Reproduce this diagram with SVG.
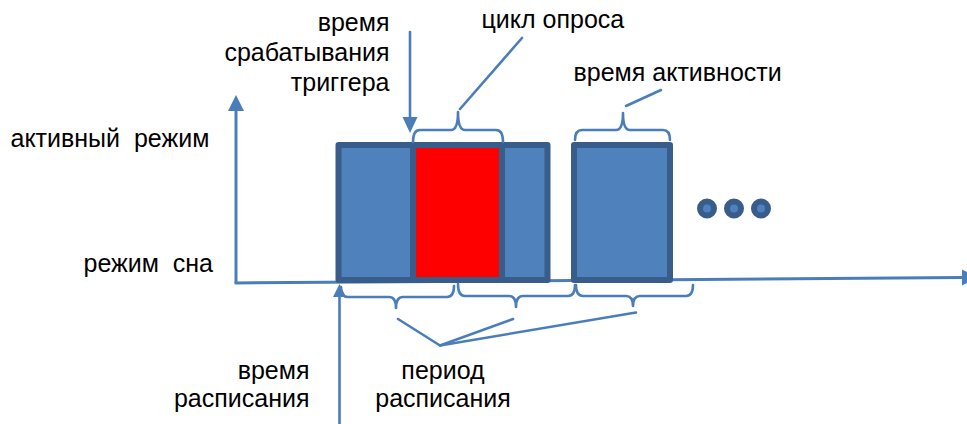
<svg xmlns="http://www.w3.org/2000/svg" width="967" height="424" viewBox="0 0 967 424">
<style>
text{font-family:"Liberation Sans",Arial,sans-serif;font-size:25px;fill:#000}
.ln{fill:none;stroke:#4A7EBB;stroke-width:2.6;stroke-linecap:round;stroke-linejoin:round}
.ax{fill:none;stroke:#4A7EBB;stroke-width:3}
.ah{fill:#4A7EBB;stroke:none}
.box{fill:#4F81BD;stroke:#385D8A;stroke-width:6;stroke-linejoin:round}
.red{fill:#FF0000;stroke:#385D8A;stroke-width:6}
.dot{fill:#4F81BD;stroke:#385D8A;stroke-width:6}
</style>
<rect width="967" height="424" fill="#fff"/>
<g id="axes">
<line class="ax" x1="236" y1="283" x2="236" y2="108"/>
<polygon class="ah" points="236,95 228,111 244,111"/>
<line class="ax" x1="234.5" y1="283" x2="963" y2="277.5"/>
<polygon class="ah" points="978,277.4 962,269.5 962,285.5"/>
</g>
<g id="box1">
<rect class="box" x="338.5" y="145" width="209" height="135"/>
<rect class="red" x="413" y="145" width="89" height="135"/>
</g>
<g id="box2">
<rect class="box" x="574" y="145" width="96" height="135"/>
</g>
<g id="dots">
<circle class="dot" cx="707" cy="208.5" r="7"/>
<circle class="dot" cx="734" cy="208.5" r="7"/>
<circle class="dot" cx="761" cy="208.5" r="7"/>
</g>
<g id="connectors">
<line class="ln" x1="410" y1="32" x2="410" y2="119"/>
<polygon class="ah" points="410,133 402.5,117 417.5,117"/>
<line class="ln" x1="339.5" y1="424" x2="339.5" y2="295"/>
<polygon class="ah" points="339.5,284 333,297 346,297"/>
<path class="ln" d="M413,142 Q413,130 420,130 H451 Q458,130 458,112 Q458,130 465,130 H496 Q503,130 503,142"/>
<path class="ln" d="M575,140 Q575,130 582,130 H616 Q623,130 623,113 Q623,130 630,130 H663 Q670,130 670,140"/>
<path class="ln" d="M341,287 Q341,297 348,297 H389 Q396,297 396,308 Q396,297 403,297 H447 Q454,297 454,286"/>
<path class="ln" d="M458,284 Q458,296 465,296 H509 Q516,296 516,307 Q516,296 523,296 H568 Q575,296 575,285"/>
<path class="ln" d="M576,285 Q576,296 583,296 H626 Q633,296 633,306 Q633,296 640,296 H686 Q693,296 693,285"/>
<line class="ln" x1="522" y1="38" x2="460" y2="109"/>
<line class="ln" x1="661" y1="90" x2="626" y2="106"/>
<polyline class="ln" points="398,319 440,345.5 513,319"/>
<line class="ln" x1="440" y1="345.5" x2="636" y2="312.5"/>
</g>
<g id="labels">
<text x="389.5" y="31" text-anchor="end">время</text>
<text x="389.5" y="61" text-anchor="end">срабатывания</text>
<text x="389.5" y="90.5" text-anchor="end">триггера</text>
<text x="481.5" y="28">цикл опроса</text>
<text x="573.5" y="81">время активности</text>
<text x="10.5" y="146.5" xml:space="preserve">активный  режим</text>
<text x="213" y="271.5" text-anchor="end" xml:space="preserve">режим  сна</text>
<text x="309.5" y="379" text-anchor="end">время</text>
<text x="309.5" y="406.5" text-anchor="end">расписания</text>
<text x="443" y="379" text-anchor="middle">период</text>
<text x="443" y="406.5" text-anchor="middle">расписания</text>
</g>
</svg>
